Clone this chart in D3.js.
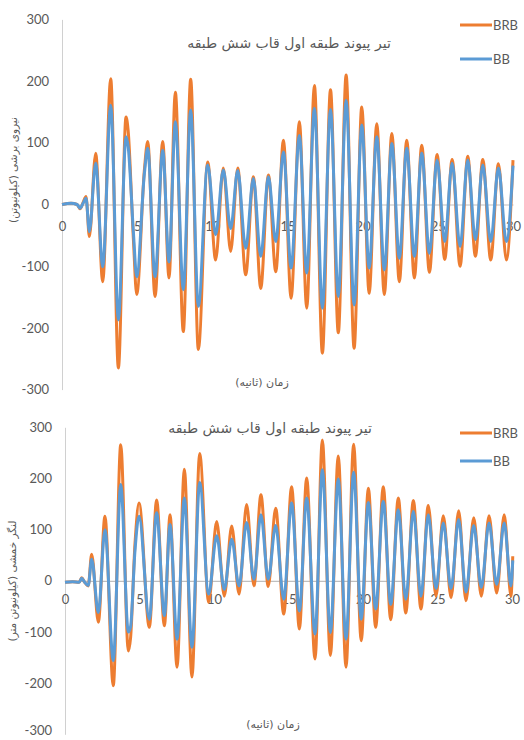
<!DOCTYPE html>
<html>
<head>
<meta charset="utf-8">
<script src="https://cdn.jsdelivr.net/npm/d3@7/dist/d3.min.js"></script>
<style>
  html, body { margin: 0; padding: 0; background: #ffffff; }
  svg { display: block; }
</style>
</head>
<body>
<svg id="chart" width="524" height="740"></svg>
<script>
// ---------------- DATA ----------------
const chartTitle = "تیر پیوند طبقه اول قاب شش طبقه";
const xTitle = "زمان (ثانیه)";
const yTitleShear = "نیروی برشی (کیلونیوتن)";
const yTitleMoment = "لنگر خمشی (کیلونیوتن متر)";
const seriesNames = ["BRB", "BB"];
const xTicks = [0, 5, 10, 15, 20, 25, 30];
const yTicks = [-300, -200, -100, 0, 100, 200, 300];

// Chart 1: shear force (kN) vs time (s)
const timeShear = [0, 0.6, 1.0, 1.2, 1.4, 1.6, 1.82, 2.24, 2.71, 3.24, 3.75, 4.26, 4.4, 4.75, 4.97, 5.48, 5.70, 6.19, 6.70, 7.12,
  7.54, 8.07, 8.56, 9.07, 9.69, 10.22, 10.73, 11.22, 11.69, 12.22, 12.73, 13.22, 13.73, 14.22, 14.73, 15.24, 15.79, 16.28, 16.79, 17.32,
  17.86, 18.38, 18.90, 19.43, 19.94, 20.43, 20.94, 21.44, 21.94, 22.44, 22.93, 23.44, 23.93, 24.44, 24.95, 25.46, 25.95, 26.48, 26.99, 27.50,
  27.99, 28.52, 29.03, 29.56, 30.0];
const shearBRB = [0, 2, 0, -7, 3, 13, -52, 83, -125, 204, -265, 142, 120, -57, -146, 56, 102, -149, 102, -119,
  182, -206, 203, -235, 69, -90, 59, -76, 59, -114, 45, -136, 48, -109, 104, -152, 134, -168, 193, -241,
  186, -208, 210, -233, 158, -144, 131, -146, 115, -125, 104, -119, 96, -110, 81, -89, 73, -100, 78, -84,
  73, -90, 66, -90, 72];
const shearBB = [0, 2, 0, -6, 2, 10, -44, 67, -101, 161, -187, 110, 94, -45, -117, 50, 91, -117, 88, -93,
  134, -138, 153, -165, 64, -49, 56, -39, 55, -71, 42, -84, 45, -60, 85, -103, 112, -111, 156, -168,
  154, -149, 169, -163, 129, -103, 110, -106, 99, -87, 91, -84, 83, -79, 72, -60, 67, -68, 72, -57,
  64, -60, 59, -60, 63];

// Chart 2: bending moment (kN.m) vs time (s)
const timeMoment = [0, 0.5, 0.95, 1.12, 1.3, 1.56, 1.79, 2.24, 2.68, 3.24, 3.74, 4.25, 4.4, 4.7, 4.97, 5.66, 6.15, 6.67, 7.05, 7.52,
  8.01, 8.52, 9.04, 9.64, 10.18, 10.69, 11.19, 11.68, 12.19, 12.68, 13.15, 13.64, 14.14, 14.68, 15.21, 15.73, 16.22, 16.78, 17.27, 17.81,
  18.34, 18.86, 19.37, 19.88, 20.36, 20.85, 21.36, 21.86, 22.37, 22.87, 23.38, 23.89, 24.38, 24.90, 25.39, 25.91, 26.42, 26.91, 27.43, 27.94,
  28.46, 28.97, 29.48, 29.93, 30.05];
const momentBRB = [-3, -2, -3, 6, -2, -10, 52, -81, 126, -205, 266, -137, -112, 74, 152, -91, 158, -88, 129, -169,
  218, -188, 249, -42, 116, -30, 107, -26, 149, -10, 168, -11, 142, -65, 184, -94, 201, -153, 275, -146,
  244, -169, 267, -117, 181, -91, 184, -76, 162, -63, 157, -55, 147, -30, 127, -33, 137, -39, 123, -30,
  127, -24, 129, -30, 48];
const momentBB = [-3, -2, -3, 5, -2, -9, 42, -62, 100, -156, 188, -100, -90, 60, 126, -75, 133, -68, 110, -114,
  162, -130, 192, -26, 88, -17, 81, -10, 114, 3, 129, 3, 108, -36, 152, -59, 162, -104, 217, -101,
  199, -114, 212, -75, 153, -55, 155, -46, 139, -36, 136, -30, 129, -15, 113, -15, 120, -22, 108, -13,
  113, -7, 113, -10, 40];

// ---------------- DRAW ----------------
const svg = d3.select("#chart");
const colors = { BRB: "#ED7D31", BB: "#5B9BD5" };
const textColor = "#595959";
const latin = "Lato, 'Open Sans', sans-serif";
const persian = "'DejaVu Sans', sans-serif";

function drawChart(cfg) {
  const g = svg.append("g");
  const x = d3.scaleLinear().domain([0, 30]).range([cfg.x0, cfg.x1]);
  const y = d3.scaleLinear().domain([-300, 300]).range([cfg.yBottom, cfg.yTop]);

  // y axis
  const yAxis = g.append("g")
    .attr("transform", `translate(${cfg.x0},0)`)
    .call(d3.axisLeft(y).tickValues(yTicks).tickSize(0).tickPadding(13).tickFormat(d => String(d)));
  yAxis.select(".domain").attr("stroke", "#d0d0d0").attr("stroke-width", 1);
  yAxis.selectAll("text").attr("fill", textColor).style("font-family", latin).style("font-size", "13px");
  if (cfg.lastLabelDy) {
    yAxis.selectAll(".tick").filter(d => d === -300).select("text").attr("dy", cfg.lastLabelDy);
  }

  // x axis at zero
  const xAxis = g.append("g")
    .attr("transform", `translate(0,${y(0)})`)
    .call(d3.axisBottom(x).tickValues(xTicks).tickSize(0).tickPadding(cfg.xPad).tickFormat(d => String(d)));
  xAxis.select(".domain").attr("stroke", "#bfbfbf").attr("stroke-width", 1.2);
  xAxis.selectAll("text").attr("fill", textColor).style("font-family", latin).style("font-size", "13px");

  const line = d3.line().x(d => x(d[0])).y(d => y(d[1])).curve(d3.curveMonotoneX);
  const dBRB = cfg.time.map((t, i) => [t, cfg.brb[i]]);
  const dBB = cfg.time.map((t, i) => [t, cfg.bb[i]]);

  g.append("path").datum(dBRB).attr("d", line)
    .attr("fill", "none").attr("stroke", colors.BRB).attr("stroke-width", 3).attr("stroke-linejoin", "round");
  g.append("path").datum(dBB).attr("d", line)
    .attr("fill", "none").attr("stroke", colors.BB).attr("stroke-width", 3).attr("stroke-linejoin", "round");

  // title
  g.append("text").attr("x", cfg.titleX).attr("y", cfg.titleY)
    .attr("text-anchor", "middle").attr("dominant-baseline", "central")
    .attr("fill", textColor).style("font-family", persian).style("font-size", "14px")
    .style("unicode-bidi", "plaintext")
    .text(chartTitle);

  // x title
  g.append("text").attr("x", cfg.xTitleX).attr("y", cfg.xTitleY)
    .attr("text-anchor", "middle").attr("dominant-baseline", "central")
    .attr("fill", textColor).style("font-family", persian).style("font-size", "11px")
    .style("unicode-bidi", "plaintext")
    .text(xTitle);

  // y title
  g.append("text")
    .attr("transform", `translate(${cfg.yTitleX},${cfg.yTitleY}) rotate(-90)`)
    .attr("text-anchor", "middle").attr("dominant-baseline", "central")
    .attr("fill", textColor).style("font-family", persian).style("font-size", "10.5px")
    .style("unicode-bidi", "plaintext")
    .text(cfg.yTitle);

  // legend
  seriesNames.forEach((name, i) => {
    const ly = cfg.legendY[i];
    g.append("line").attr("x1", 460).attr("x2", 492).attr("y1", ly).attr("y2", ly)
      .attr("stroke", colors[name]).attr("stroke-width", 3);
    g.append("text").attr("x", 493).attr("y", ly).attr("dominant-baseline", "central")
      .attr("fill", textColor).style("font-family", latin).style("font-size", "13px")
      .text(name);
  });
}

drawChart({
  x0: 62, x1: 513, yTop: 19.4, yBottom: 389.6, xPad: 17,
  time: timeShear, brb: shearBRB, bb: shearBB,
  titleX: 289, titleY: 43, xTitleX: 262, xTitleY: 382,
  yTitleX: 13, yTitleY: 170, yTitle: yTitleShear,
  legendY: [25, 59]
});

drawChart({
  x0: 65, x1: 512, yTop: 427.3, yBottom: 734.3, xPad: 14,
  time: timeMoment, brb: momentBRB, bb: momentBB,
  titleX: 270, titleY: 428, xTitleX: 273, xTitleY: 724,
  yTitleX: 12, yTitleY: 581, yTitle: yTitleMoment,
  legendY: [433, 461], lastLabelDy: "0.05em"
});
</script>
</body>
</html>
